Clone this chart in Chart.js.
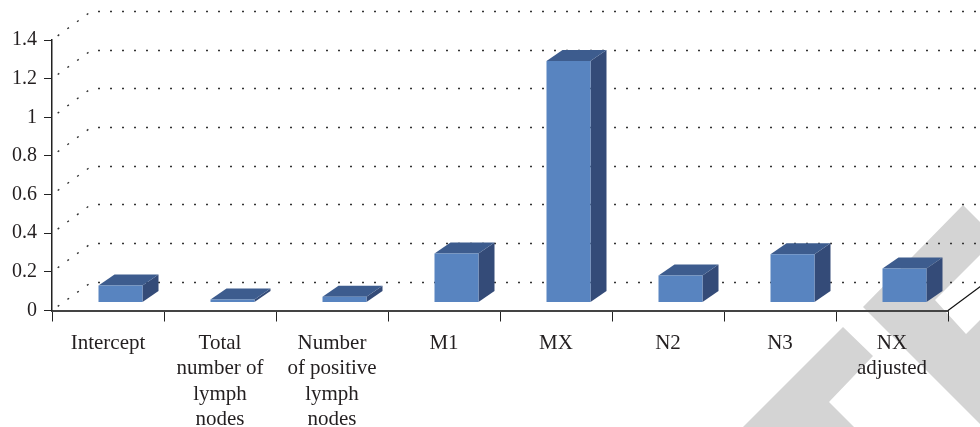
<!DOCTYPE html>
<html lang="en">
<head>
    <meta charset="UTF-8">
    <title>Bar chart</title>
    <script src="https://cdn.jsdelivr.net/npm/chart.js"></script>
    <style>
        html, body { margin: 0; padding: 0; background: #fff; }
        #wrap { width: 980px; height: 427px; }
    </style>
</head>
<body>
    <div id="wrap"><canvas id="chart" width="980" height="427"></canvas></div>

    <script>
        const categories = [
            "Intercept",
            ["Total", "number of", "lymph", "nodes"],
            ["Number", "of positive", "lymph", "nodes"],
            "M1",
            "MX",
            "N2",
            "N3",
            ["NX", "adjusted"]
        ];
        const values = [0.088, 0.015, 0.03, 0.254, 1.25, 0.14, 0.25, 0.176];
        const yTickLabels = ["0", "0.2", "0.4", "0.6", "0.8", "1", "1.2", "1.4"];

        const textColor = "#231f20";
        const fontFamily = "'Liberation Serif', serif";

        // gray logo stamped behind the chart
        const stampShapes = [
            [[963, 205], [980, 222], [980, 255], [935, 300], [966, 334], [980, 320], [980, 424], [863, 307]],
            [[843, 327], [873, 356], [829, 402], [854, 427], [743, 427]]
        ];

        const fake3d = {
            id: "fake3d",
            beforeDraw(chart) {
                const ctx = chart.ctx;
                ctx.save();
                ctx.fillStyle = "#d4d4d4";
                stampShapes.forEach(shape => {
                    ctx.beginPath();
                    shape.forEach((p, i) => i ? ctx.lineTo(p[0], p[1]) : ctx.moveTo(p[0], p[1]));
                    ctx.closePath();
                    ctx.fill();
                });
                ctx.restore();
            },
            beforeDatasetsDraw(chart) {
                const ctx = chart.ctx;
                const area = chart.chartArea;
                const yScale = chart.scales.y;

                // dotted lines on the floor and back wall
                ctx.save();
                ctx.strokeStyle = "#333";
                ctx.lineWidth = 1.4;
                ctx.setLineDash([2, 10]);
                yScale.ticks.forEach(t => {
                    const y = yScale.getPixelForValue(t.value);
                    const backY = Math.round(y - 29) + 0.5;
                    ctx.lineDashOffset = -7;
                    ctx.beginPath();
                    ctx.moveTo(area.left, y);
                    ctx.lineTo(area.left + 39, backY);
                    ctx.stroke();
                    ctx.beginPath();
                    ctx.moveTo(area.left + 39, backY);
                    ctx.lineTo(980, backY);
                    ctx.stroke();
                });
                ctx.setLineDash([]);
                ctx.strokeStyle = "#111";
                ctx.lineWidth = 1.2;
                ctx.beginPath();
                ctx.moveTo(area.right, yScale.getPixelForValue(0));
                ctx.lineTo(area.right + 39, yScale.getPixelForValue(0) - 29);
                ctx.stroke();
                ctx.restore();

                // side and top faces, then the library's bars as front faces
                ctx.save();
                ctx.translate(12.5, -8);
                chart.getDatasetMeta(0).data.forEach(bar => {
                    const right = bar.x + bar.width / 2;
                    const left = bar.x - bar.width / 2;
                    ctx.fillStyle = "#344b78";
                    ctx.beginPath();
                    ctx.moveTo(right, bar.y);
                    ctx.lineTo(right + 16, bar.y - 11);
                    ctx.lineTo(right + 16, bar.base - 11);
                    ctx.lineTo(right, bar.base);
                    ctx.closePath();
                    ctx.fill();
                    ctx.fillStyle = "#3d5c8e";
                    ctx.beginPath();
                    ctx.moveTo(left, bar.y);
                    ctx.lineTo(left + 16, bar.y - 11);
                    ctx.lineTo(right + 16, bar.y - 11);
                    ctx.lineTo(right, bar.y);
                    ctx.closePath();
                    ctx.fill();
                });
            },
            afterDatasetsDraw(chart) {
                chart.ctx.restore();
            }
        };

        new Chart(document.getElementById("chart"), {
            type: "bar",
            data: {
                labels: categories,
                datasets: [{
                    data: values,
                    backgroundColor: "#5884c0",
                    borderWidth: 0,
                    barPercentage: 44 / 112,
                    categoryPercentage: 1,
                    clip: false
                }]
            },
            plugins: [fake3d],
            options: {
                responsive: false,
                animation: false,
                layout: { padding: { top: 40, right: 32, left: 0, bottom: 0 } },
                plugins: { legend: { display: false }, tooltip: { enabled: false } },
                scales: {
                    x: {
                        afterFit(scale) { scale.height = 116.5; },
                        border: { color: "#444", width: 2 },
                        grid: { drawOnChartArea: false, color: "#222", lineWidth: 1, tickLength: 11 },
                        ticks: {
                            color: textColor,
                            padding: 9,
                            maxRotation: 0,
                            autoSkip: false,
                            font: { family: fontFamily, size: 21, lineHeight: 25.4 / 21 }
                        }
                    },
                    y: {
                        min: 0,
                        max: 1.4,
                        afterFit(scale) { scale.width = 52; },
                        afterBuildTicks(scale) {
                            scale.ticks = yTickLabels.map(s => ({ value: parseFloat(s) }));
                        },
                        border: { color: "#222", width: 1.5 },
                        grid: { drawOnChartArea: false, color: "#222", lineWidth: 1, tickLength: 8 },
                        ticks: {
                            color: textColor,
                            padding: 7,
                            callback: (value, i) => yTickLabels[i],
                            font: { family: fontFamily, size: 20 }
                        }
                    }
                }
            }
        });
    </script>
</body>
</html>
